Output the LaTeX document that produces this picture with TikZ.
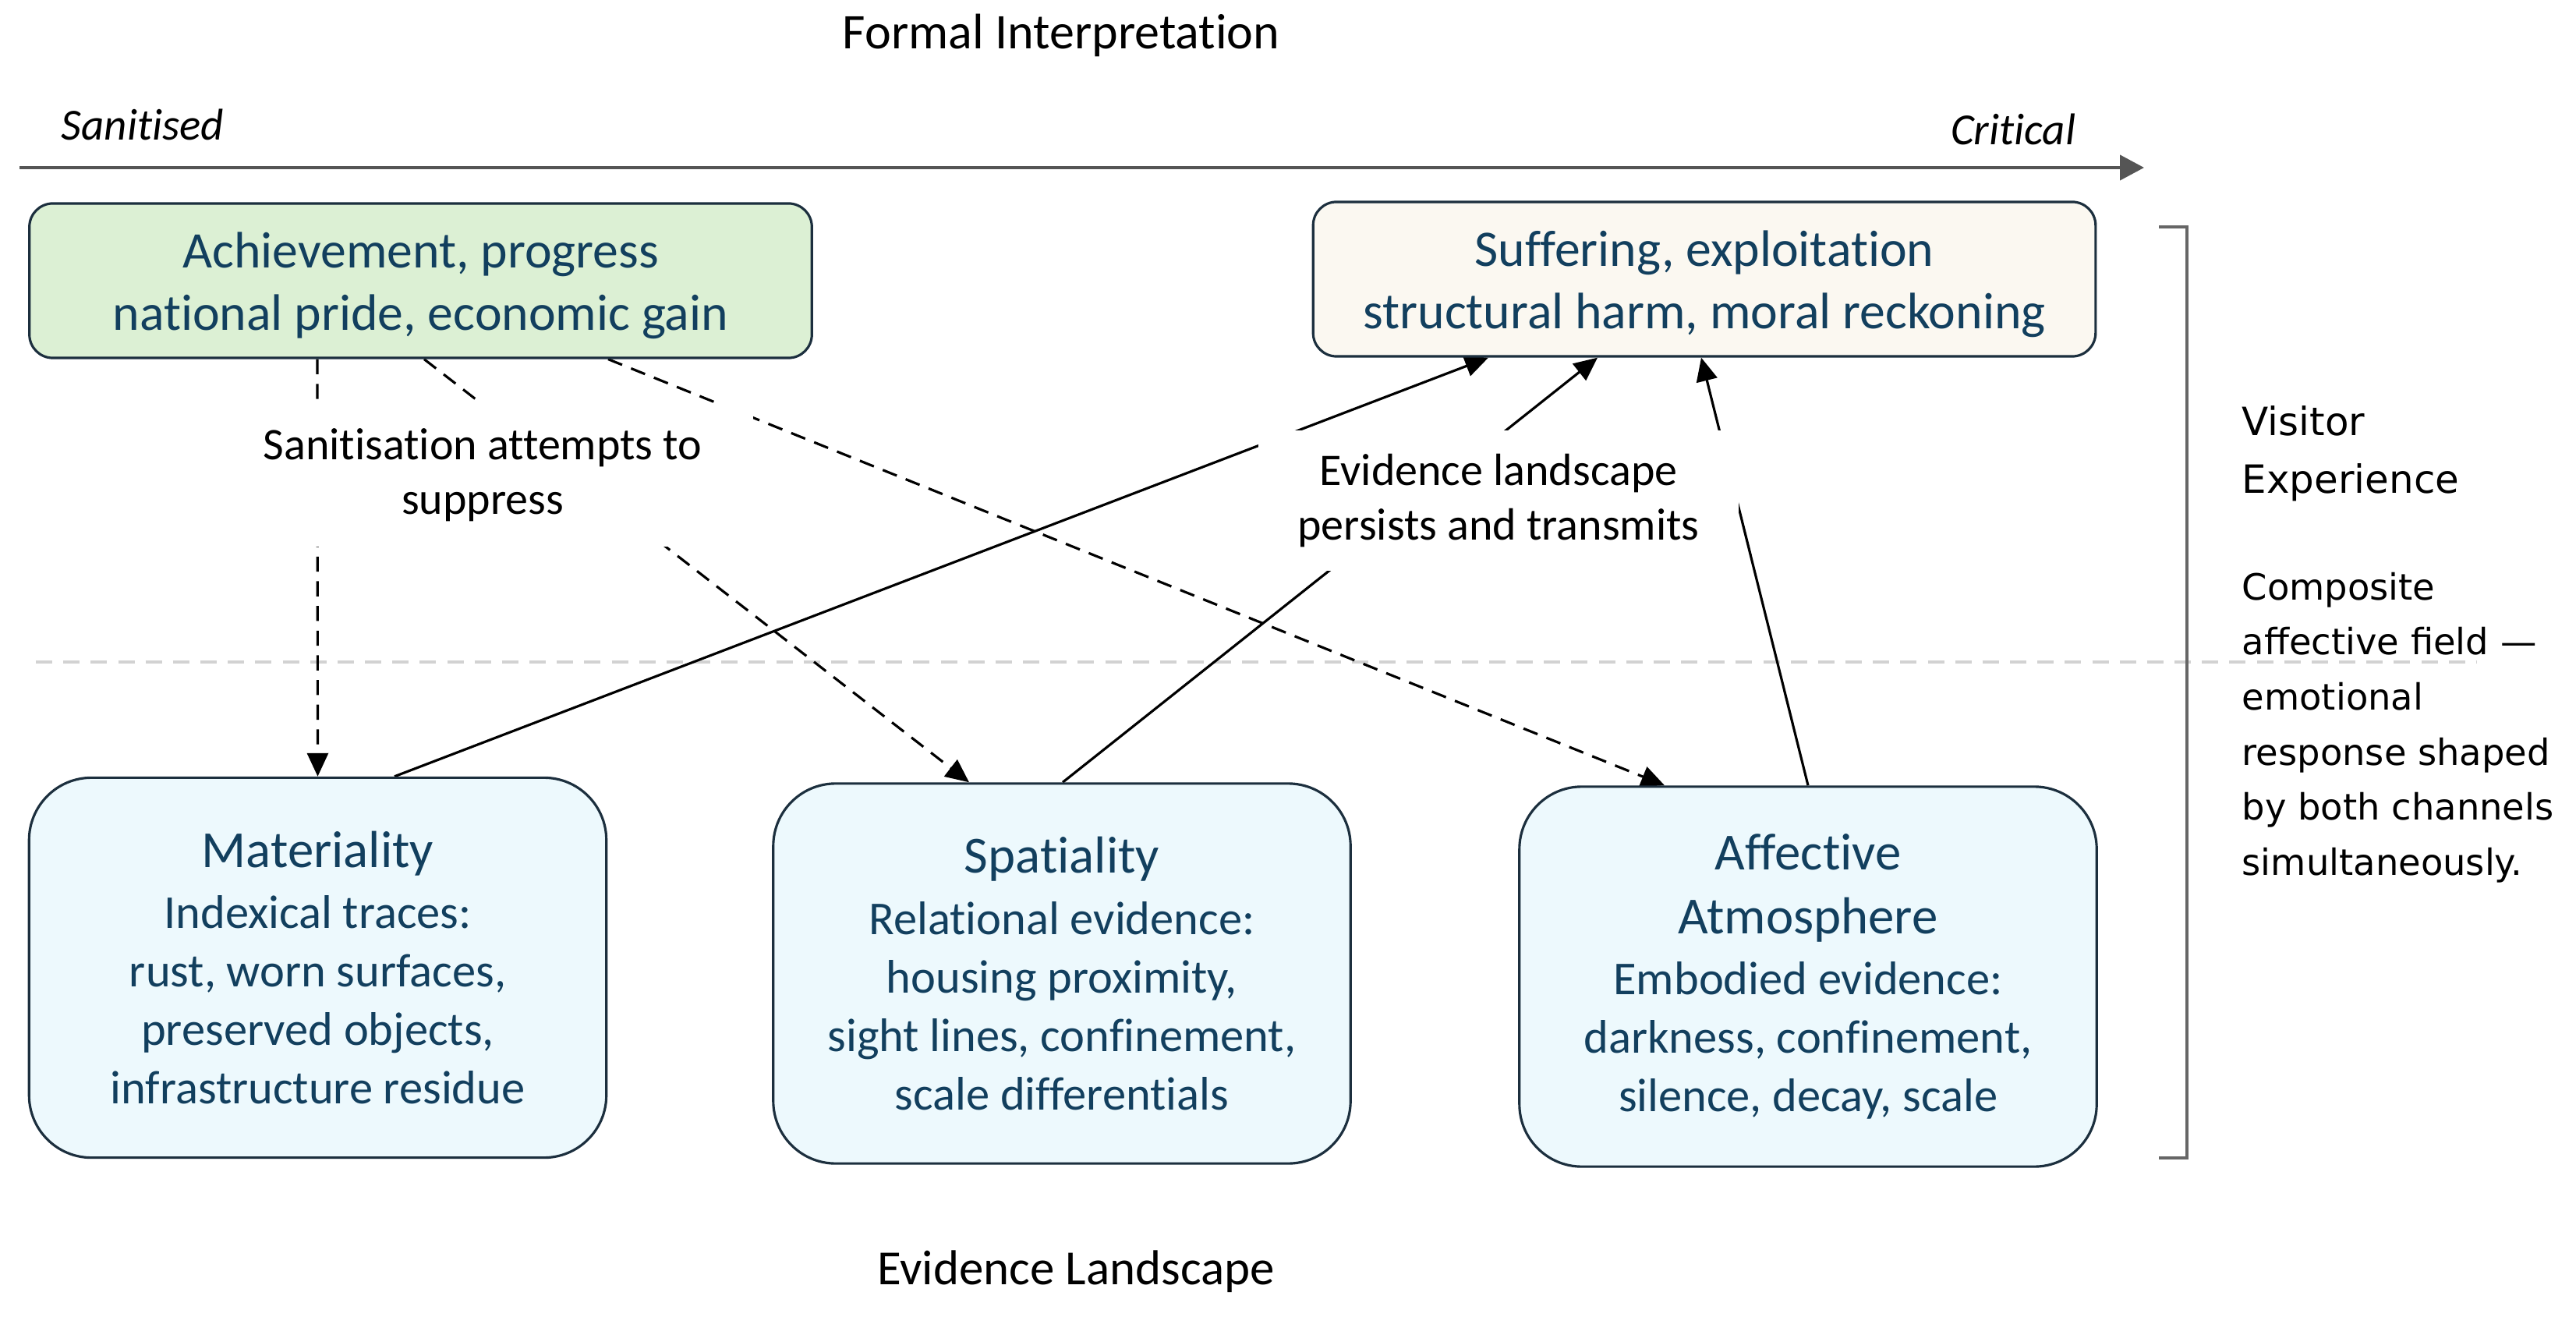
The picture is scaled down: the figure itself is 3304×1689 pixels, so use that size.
\documentclass[tikz,border=0pt]{standalone}
\usepackage{fontspec}
\setmainfont{Carlito}[Ligatures=NoCommon]
\newfontfamily\vfont{DejaVu Sans}
\usetikzlibrary{arrows.meta,calc,backgrounds}

\definecolor{boxtext}{HTML}{123F5E}
\definecolor{boxline}{HTML}{1C2F3E}
\definecolor{greenfill}{HTML}{DCF0D4}
\definecolor{creamfill}{HTML}{FBF8F1}
\definecolor{bluefill}{HTML}{EDF9FD}
\definecolor{axisgray}{HTML}{555555}
\definecolor{sepgray}{HTML}{D2D2D2}
\definecolor{brackgray}{HTML}{666666}

\newcommand\boxtitle{\fontsize{19pt}{23.3pt}\selectfont}
\newcommand\toplift{\rule{0pt}{16.5pt}}

\tikzset{
 topbox/.style={draw=boxline, line width=0.9pt, rounded corners=0.3cm,
   minimum width=10.03cm, minimum height=1.98cm, inner sep=0pt, align=center,
   text=boxtext, font=\fontsize{18.7pt}{22.8pt}\selectfont},
 evbox/.style={draw=boxline, line width=0.9pt, rounded corners=0.8cm, fill=bluefill,
   minimum width=7.4cm, minimum height=4.87cm, inner sep=0pt, align=center,
   text=boxtext, font=\fontsize{17.2pt}{21.3pt}\selectfont},
 lbl/.style={fill=white, inner sep=0pt, align=center,
   font=\fontsize{16.5pt}{19.8pt}\selectfont},
 conn/.style={line width=0.9pt, -{Triangle[length=0.3cm,width=0.27cm]}},
 dconn/.style={conn, dash pattern=on 5.5pt off 3.5pt},
 plain/.style={inner sep=0pt},
}

\begin{document}
\begin{tikzpicture}[x=0.01cm, y=-0.01cm]
\path[use as bounding box] (0,0) rectangle (3304,1689);

% axis
\coordinate (axL) at (25,215);
\coordinate (axR) at (2750,215);
\draw[axisgray, line width=1.2pt, -{Triangle[length=0.31cm,width=0.32cm]}] (axL) -- (axR);

\node[plain, font=\fontsize{18.2pt}{22pt}\selectfont] (fi) at (1361,45) {Formal Interpretation};
\node[plain, font=\fontsize{17.9pt}{22pt}\selectfont] (elx) at (1380,1631) {Evidence Landscape};
\node[plain, anchor=west, font=\fontsize{16.2pt}{20pt}\selectfont\itshape] (san) at (78,160) {Sanitised};
\node[plain, anchor=east, font=\fontsize{16.2pt}{20pt}\selectfont\itshape] (crit) at (2663,166) {Critical};

% top boxes
\node[topbox, fill=greenfill] (ach) at (539.5,360) {\toplift Achievement, progress\\national pride, economic gain};
\node[topbox, fill=creamfill] (suf) at (2186,358) {\toplift Suffering, exploitation\\structural harm, moral reckoning};

% evidence boxes
\node[evbox] (mat) at (407.5,1241) {{\boxtitle Materiality}\\[1pt]Indexical traces:\\rust, worn surfaces,\\preserved objects,\\infrastructure residue};
\node[evbox] (spa) at (1362,1248.5) {{\boxtitle Spatiality}\\[1pt]Relational evidence:\\housing proximity,\\sight lines, confinement,\\scale differentials};
\node[evbox] (aff) at (2319,1252.5) {{\boxtitle Affective}\\[2pt]{\boxtitle Atmosphere}\\[1pt]Embodied evidence:\\darkness, confinement,\\silence, decay, scale};

% labels
\node[lbl, minimum width=6.94cm, minimum height=1.83cm] (sanl) at (619,609) {Sanitisation attempts to\\suppress};
\node[lbl, minimum width=6.16cm, minimum height=1.79cm] (evl) at (1922,642) {Evidence landscape\\persists and transmits};

% right panel
\draw[brackgray, line width=1.1pt] (2769,291) -- (2805,291) -- (2805,1485) -- (2769,1485);
\node[plain, anchor=west, align=left, font=\vfont\fontsize{14.2pt}{21pt}\selectfont] (vis) at (2875,582) {Visitor\\Experience};
\node[plain, anchor=west, align=left, font=\vfont\fontsize{13.2pt}{20.1pt}\selectfont] (comp) at (2875,933) {Composite\\affective field —\\emotional\\response shaped\\by both channels\\simultaneously.};

\begin{scope}[on background layer]
\draw[sepgray, line width=1.2pt, dash pattern=on 6pt off 4pt] (46,849) -- (3177,849);
\draw[dconn] ($(ach.south)+(-132.5,0)$) -- (mat.north);
\draw[dconn] ($(ach.south)+(4.5,0)$) -- ($(spa.north)+(-119,0)$);
\draw[dconn] ($(ach.south)+(240.5,0)$) -- ($(aff.north)+(-184,0)$);
\draw[conn] ($(mat.north)+(98.5,0)$) -- ($(suf.south)+(-277,0)$);
\draw[conn] ($(spa.north)+(1,0)$) -- ($(suf.south)+(-137,0)$);
\draw[conn] (aff.north) -- ($(suf.south)+(-4,0)$);
\end{scope}
\end{tikzpicture}
\end{document}
